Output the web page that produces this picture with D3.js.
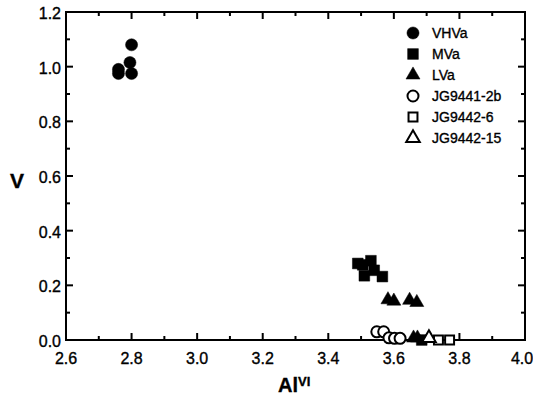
<!DOCTYPE html>
<html>
<head>
<meta charset="utf-8">
<script src="https://cdn.jsdelivr.net/npm/d3@7"></script>
<style>
  body { margin: 0; background: #fff; }
  text { font-family: "Liberation Sans", Arial, sans-serif; fill: #000; stroke: #000; stroke-width: 0.35px; }
</style>
</head>
<body>
<div id="chart"></div>
<script>
// data: AlVI vs V
var vhvaAl = [2.80, 2.795, 2.76, 2.76, 2.80];
var vhvaV  = [1.08, 1.015, 0.99, 0.975, 0.975];
var mvaAl = [3.49, 3.505, 3.53, 3.51, 3.54, 3.565, 3.685];
var mvaV  = [0.28, 0.275, 0.29, 0.235, 0.255, 0.232, 0.0];
var lvaAl = [3.582, 3.60, 3.648, 3.67, 3.66, 3.672];
var lvaV  = [0.14, 0.135, 0.138, 0.13, 0.0, 0.0];
var jg1Al = [3.548, 3.569, 3.585, 3.602, 3.619];
var jg1V  = [0.03, 0.03, 0.008, 0.006, 0.006];
var jg6Al = [3.736, 3.77];
var jg6V  = [0.0, 0.0];
var jg15Al = [3.707];
var jg15V  = [0.0];
var seriesNames = ['VHVa', 'MVa', 'LVa', 'JG9441-2b', 'JG9442-6', 'JG9442-15'];
var xTicks = [2.6, 2.8, 3.0, 3.2, 3.4, 3.6, 3.8, 4.0];
var yTicks = [0.0, 0.2, 0.4, 0.6, 0.8, 1.0, 1.2];

(function() {
var width = 533, height = 401;
var mLeft = 66, mRight = 525, mTop = 12, mBottom = 340;

var svg = d3.select('#chart').append('svg')
	.attr('width', width)
	.attr('height', height);

var x = d3.scaleLinear().domain([2.6, 4.0]).range([mLeft, mRight]);
var y = d3.scaleLinear().domain([0, 1.2]).range([mBottom, mTop]);

function zip(a, b) {
	return a.map(function(d, i) { return [d, b[i]]; });
}
var series = [
	{name: seriesNames[0], pts: zip(vhvaAl, vhvaV), type: d3.symbolCircle, size: 115, filled: true},
	{name: seriesNames[1], pts: zip(mvaAl, mvaV), type: d3.symbolSquare, size: 115, filled: true},
	{name: seriesNames[2], pts: zip(lvaAl, lvaV), type: d3.symbolTriangle, size: 85, filled: true},
	{name: seriesNames[3], pts: zip(jg1Al, jg1V), type: d3.symbolCircle, size: 95, filled: false},
	{name: seriesNames[4], pts: zip(jg6Al, jg6V), type: d3.symbolSquare, size: 80, filled: false},
	{name: seriesNames[5], pts: zip(jg15Al, jg15V), type: d3.symbolTriangle, size: 80, filled: false}
];

// minor + major ticks, pointing inward on all four sides
var xMinor = d3.range(0, 15).map(function(i) { return 2.6 + i * 0.1; });
var yMinor = d3.range(0, 13).map(function(i) { return i * 0.1; });
var ticks = svg.append('g').attr('stroke', '#000').attr('stroke-width', 2);
xMinor.forEach(function(v, i) {
	var len = i % 2 == 0 ? 7 : 4;
	ticks.append('line').attr('x1', x(v)).attr('x2', x(v)).attr('y1', mBottom).attr('y2', mBottom - len);
	ticks.append('line').attr('x1', x(v)).attr('x2', x(v)).attr('y1', mTop).attr('y2', mTop + len);
});
yMinor.forEach(function(v, i) {
	var len = i % 2 == 0 ? 7 : 4;
	ticks.append('line').attr('y1', y(v)).attr('y2', y(v)).attr('x1', mLeft).attr('x2', mLeft + len);
	ticks.append('line').attr('y1', y(v)).attr('y2', y(v)).attr('x1', mRight).attr('x2', mRight - len);
});

svg.append('rect')
	.attr('x', mLeft).attr('y', mTop)
	.attr('width', mRight - mLeft).attr('height', mBottom - mTop)
	.attr('fill', 'none').attr('stroke', '#000').attr('stroke-width', 2);

svg.selectAll('.xlab').data(xTicks).enter().append('text')
	.attr('class', 'xlab')
	.attr('x', function(d, i) { return x(d) - (i == xTicks.length - 1 ? 3 : 0); })
	.attr('y', mBottom + 24)
	.attr('text-anchor', 'middle')
	.attr('font-size', 16)
	.text(function(d) { return d.toFixed(1); });

svg.selectAll('.ylab').data(yTicks).enter().append('text')
	.attr('class', 'ylab')
	.attr('x', mLeft - 5)
	.attr('y', function(d) { return y(d) + 7; })
	.attr('text-anchor', 'end')
	.attr('font-size', 16)
	.text(function(d) { return d.toFixed(1); });

// axis titles
svg.append('text')
	.attr('x', 17).attr('y', 188)
	.attr('text-anchor', 'middle')
	.attr('font-size', 21).attr('font-weight', 'bold')
	.text('V');
var xt = svg.append('text')
	.attr('x', 278).attr('y', 392)
	.attr('font-size', 20).attr('font-weight', 'bold');
xt.append('tspan').text('Al');
xt.append('tspan').attr('font-size', 13).attr('dy', -6).text('VI');

// points
series.forEach(function(s) {
	var sym = d3.symbol().type(s.type).size(s.size);
	svg.append('g').selectAll('path').data(s.pts).enter().append('path')
		.attr('d', sym)
		.attr('transform', function(d) {
			var dy = s.type === d3.symbolTriangle ? -2 : 0;
			return 'translate(' + x(d[0]) + ',' + (y(d[1]) + dy) + ')';
		})
		.attr('fill', s.filled ? '#000' : '#fff')
		.attr('stroke', '#000')
		.attr('stroke-width', s.filled ? 0.5 : 2);
});

// legend
var legend = svg.selectAll('.leg').data(series).enter().append('g')
	.attr('class', 'leg')
	.attr('transform', function(d, i) { return 'translate(413,' + (33 + i * 21) + ')'; });
legend.append('path')
	.attr('d', function(d) { return d3.symbol().type(d.type).size(d.size)(); })
	.attr('fill', function(d) { return d.filled ? '#000' : '#fff'; })
	.attr('stroke', '#000')
	.attr('stroke-width', function(d) { return d.filled ? 0.5 : 2; });
legend.append('text')
	.attr('x', 19)
	.attr('y', 5)
	.attr('font-size', 14)
	.text(function(d) { return d.name; });
})();
</script>
</body>
</html>
